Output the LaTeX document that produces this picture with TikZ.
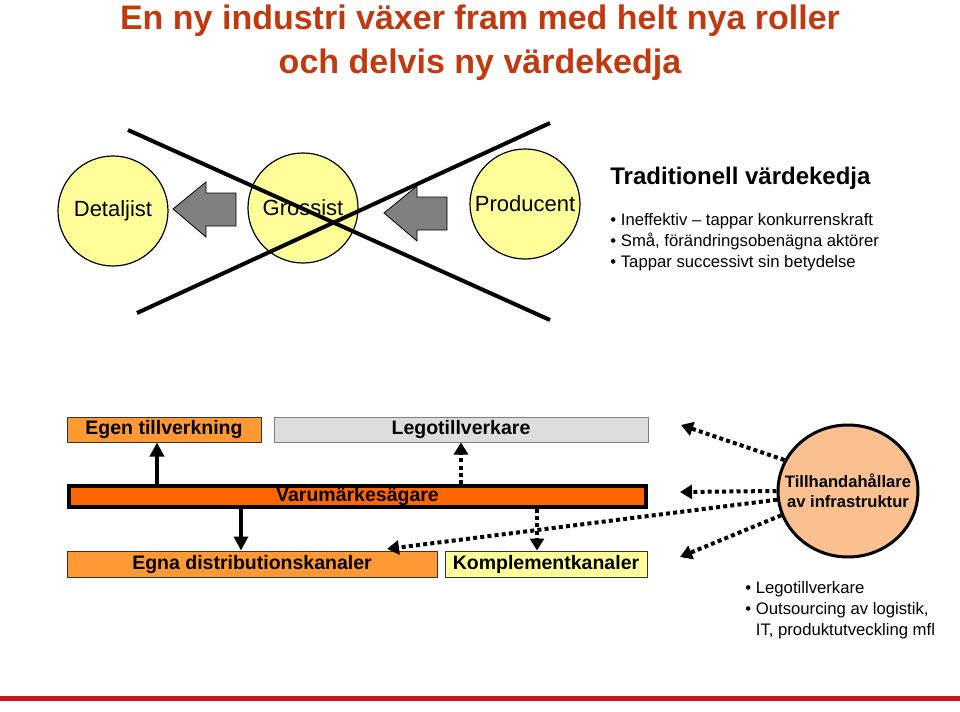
\documentclass[tikz,border=0pt]{standalone}
\usepackage{fontspec}
\setmainfont{Liberation Sans}
\usetikzlibrary{arrows.meta,shapes.geometric,positioning,calc}

\definecolor{titlered}{HTML}{C0390F}
\definecolor{paleyellow}{HTML}{FFFF99}
\definecolor{arrowgray}{HTML}{808080}
\definecolor{lightorange}{HTML}{FF9933}
\definecolor{brandorange}{HTML}{FF6600}
\definecolor{legogray}{HTML}{DDDDDD}
\definecolor{peach}{HTML}{FAC090}
\definecolor{footerred}{HTML}{C8161D}

\tikzset{
  actor/.style={circle, draw, line width=0.6pt, fill=paleyellow, minimum size=55pt,
    inner sep=0pt, font=\fontsize{11}{13}\selectfont},
  rolebox/.style={draw=black!80, line width=0.5pt, minimum height=12.5pt, inner sep=0pt,
    font=\fontsize{9.75}{11}\selectfont\bfseries},
  solidarrow/.style={line width=2pt, -{Triangle[length=7pt,width=7pt]}},
  dotarrow/.style={line width=2pt, dash pattern=on 2pt off 1.6pt,
    -{Triangle[length=6pt,width=7pt]}},
  blockarrow/.style={draw=black, line width=0.4pt, fill=arrowgray},
  bullet/.style={anchor=base west, inner sep=0pt, font=\fontsize{8.35}{10}\selectfont},
  titletext/.style={anchor=base, inner sep=0pt, text=titlered,
    font=\fontsize{17}{20}\selectfont\bfseries},
}

\begin{document}
\begin{tikzpicture}[x=0.5pt, y=-0.5pt]
\useasboundingbox (0,0) rectangle (960,712);

% title
\node[titletext] (title1) at (480,29) {En ny industri växer fram med helt nya roller};
\node[titletext] (title2) at (480,73) {och delvis ny värdekedja};

% traditional chain
\node[actor] (detaljist) at (113,211) {Detaljist};
\node[actor] (grossist) at (303,208) {Grossist};
\node[actor] (producent) at (525,204) {Producent};

\draw[blockarrow] (173,209) -- (206,182) -- (206,193) -- (236,193) -- (236,226)
  -- (206,226) -- (206,237) -- cycle;
\draw[blockarrow] (384,213) -- (417,186) -- (417,197) -- (447,197) -- (447,230)
  -- (417,230) -- (417,241) -- cycle;

% crossed out
\draw[line width=2pt] (128,130) -- (550,320);
\draw[line width=2pt] (137,313) -- (550,123);

\node[anchor=base west, inner sep=0pt, font=\fontsize{12}{14}\selectfont\bfseries]
  (trad) at (610,184) {Traditionell värdekedja};
\foreach \txt [count=\i] in {Ineffektiv -- tappar konkurrenskraft,
    {Små, förändringsobenägna aktörer}, Tappar successivt sin betydelse}
  \node[bullet] (trad\i) at (610,204+21*\i) {• \txt};

% new chain
\node[rolebox, fill=lightorange, minimum width=97pt] (egen) at (164,429.5) {Egen tillverkning};
\node[rolebox, fill=legogray, draw=gray, minimum width=187pt] (lego) at (461,429.5) {Legotillverkare};
\node[rolebox, fill=brandorange, draw=black, line width=2pt, minimum width=288.5pt,
  minimum height=10.5pt] (varum) at (357.5,496.5) {Varumärkesägare};
\node[rolebox, fill=lightorange, minimum width=185pt, minimum height=13pt]
  (egna) at (252,564) {Egna distributionskanaler};
\node[rolebox, fill=paleyellow, minimum width=101pt, minimum height=13pt]
  (kompl) at (546,564) {Komplementkanaler};

\node[ellipse, draw, line width=1.5pt, fill=peach, minimum width=70pt, minimum height=66pt,
  inner sep=0pt, align=center, font=\fontsize{8.3}{10}\selectfont\bfseries]
  (infra) at (848,491) {\makebox[0pt]{Tillhandahållare}\\\makebox[0pt]{av infrastruktur}};

\draw[solidarrow] ($(varum.north -| egen.south)+(-7,0)$) -- ($(egen.south)+(-7,0)$);
\draw[solidarrow] ($(varum.south -| egna.north)+(-11,0)$) -- ($(egna.north)+(-11,0)$);
\draw[dotarrow] (varum.north -| lego.south) -- (lego.south);
\draw[dotarrow] ($(varum.south -| kompl.north)+(-9,0)$) -- ($(kompl.north)+(-9,0)$);

\coordinate (t1) at (681,425);
\coordinate (t2) at (680,492);
\coordinate (t3) at (387,549);
\coordinate (t4) at (680,557);
\draw[dotarrow] (infra.154) -- (t1);
\draw[dotarrow] (infra.180) -- (t2);
\draw[dotarrow] (infra.187) -- (t3);
\draw[dotarrow] (infra.200) -- (t4);

\node[bullet] (infra1) at (745,593) {• Legotillverkare};
\node[bullet] (infra2) at (745,614) {• Outsourcing av logistik,};
\node[bullet] (infra3) at (745,635) {\phantom{•} IT, produktutveckling mfl};

% footer
\draw[footerred, line width=2.5pt] (0,698) -- (960,698);
\end{tikzpicture}
\end{document}
